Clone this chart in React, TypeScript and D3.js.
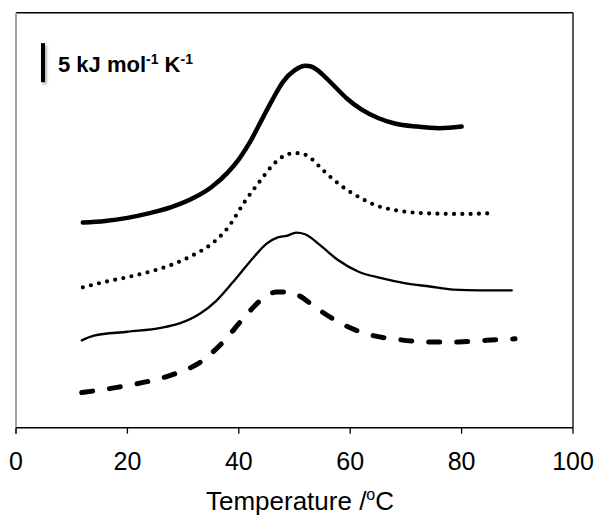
import React from "react";
import * as d3 from "d3";

// Temperature (°C) and offset heat capacity (kJ mol-1 K-1) for four DSC traces
const curveA_T = [12, 16, 20, 24, 28, 32, 35, 38, 40, 42, 44, 46, 48, 50, 52, 53, 54, 55, 57, 59.4, 62, 65, 68, 72, 76, 80];
const curveA_V = [26.3, 26.5, 26.9, 27.5, 28.3, 29.5, 30.8, 32.7, 34.4, 36.6, 39.3, 42.0, 44.4, 45.8, 46.4, 46.3, 45.9, 45.3, 43.9, 42.2, 40.8, 39.7, 39.0, 38.6, 38.4, 38.6];

const curveB_T = [12, 16, 20, 24, 28, 32, 35, 38, 41, 44, 46, 48, 50, 51.5, 53, 55, 57, 59.4, 62, 65, 68, 71, 75, 80, 86];
const curveB_V = [18.0, 18.7, 19.3, 20.0, 20.9, 22.2, 23.5, 25.6, 28.9, 31.8, 33.6, 34.8, 35.2, 35.1, 34.5, 33.1, 31.8, 30.5, 29.4, 28.4, 27.9, 27.6, 27.45, 27.4, 27.5];

const curveC_T = [11.8, 14, 20, 26, 29.5, 33, 36, 39, 42.6, 45, 47, 48.6, 50.3, 51.9, 54.6, 57.8, 61.5, 65.4, 70, 74.3, 78.5, 83.3, 89];
const curveC_V = [11.2, 11.8, 12.3, 12.8, 13.4, 14.6, 16.3, 18.7, 21.8, 23.6, 24.4, 24.6, 25.0, 24.8, 23.4, 21.5, 20.0, 19.2, 18.5, 18.1, 17.7, 17.6, 17.6];

const curveD_T = [11.8, 18.4, 23.5, 28.5, 33.3, 37.2, 40.8, 44.4, 46.8, 48.8, 50.6, 54.0, 58.8, 63.6, 68.6, 74.0, 79.4, 84.5, 89.6];
const curveD_V = [4.5, 5.2, 5.9, 6.9, 8.5, 11.0, 14.0, 16.6, 17.4, 17.4, 17.0, 15.3, 13.2, 11.9, 11.3, 11.0, 11.0, 11.2, 11.4];

const xTicks = [0, 20, 40, 60, 80, 100];
const xDomain = [0, 100];
const yDomain = [0, 53.2];
const scaleBar = [44.3, 49.3]; // 5 kJ mol-1 K-1

const W = 598;
const H = 515;
const left = 16;
const right = 573;
const top = 12.7;
const bottom = 427.7;

export default function App() {
  const x = d3.scaleLinear().domain(xDomain).range([left, right]);
  const y = d3.scaleLinear().domain(yDomain).range([bottom, top]);
  const line = d3
    .line<[number, number]>()
    .x((d) => x(d[0]))
    .y((d) => y(d[1]))
    .curve(d3.curveMonotoneX);
  const pts = (t: number[], v: number[]) => t.map((tt, i) => [tt, v[i]] as [number, number]);

  const font = "'Liberation Sans', Arial, sans-serif";
  const barTop = y(scaleBar[1]);
  const barBot = y(scaleBar[0]);

  return (
    <svg
      width={W}
      height={H}
      style={{ position: "absolute", left: 0, top: 0, background: "#fff" }}
    >
      <defs>
        <filter id="sh" filterUnits="userSpaceOnUse" x="20" y="20" width="60" height="90">
          <feGaussianBlur stdDeviation="1.5" />
        </filter>
      </defs>
      {/* frame */}
      <line x1={left} x2={right} y1={top} y2={top} stroke="#000" strokeWidth={1.5} />
      <line x1={right} x2={right} y1={top} y2={bottom} stroke="#222" strokeWidth={1.5} />
      <line x1={left} x2={left} y1={top} y2={bottom + 6} stroke="#a0a0a0" strokeWidth={2} />
      <line x1={left} x2={right} y1={bottom} y2={bottom} stroke="#000" strokeWidth={1.5} />
      {xTicks.map((t) => (
        <g key={t}>
          <line x1={x(t)} x2={x(t)} y1={bottom} y2={bottom + 6} stroke="#000" strokeWidth={1.3} />
          <text x={x(t)} y={470} textAnchor="middle" fontFamily={font} fontSize={25} fill="#000">
            {t}
          </text>
        </g>
      ))}
      <text x={300} y={510} textAnchor="middle" fontFamily={font} fontSize={26} fill="#000">
        Temperature /<tspan fontSize={16} dy={-10}>o</tspan>
        <tspan dy={10}>C</tspan>
      </text>

      {/* scale bar */}
      <rect x={42.5} y={barTop + 2} width={4} height={barBot - barTop} fill="#000" opacity={0.35} filter="url(#sh)" />
      <rect x={41} y={barTop} width={4} height={barBot - barTop} fill="#000" />
      <text x={58} y={72} fontFamily={font} fontSize={22} fontWeight="bold" fill="#000">
        5 kJ mol<tspan fontSize={14} dy={-8}>-1</tspan>
        <tspan dy={8}> K</tspan>
        <tspan fontSize={14} dy={-8}>-1</tspan>
      </text>

      {/* curves */}
      <path d={line(pts(curveA_T, curveA_V)) || ""} fill="none" stroke="#000" strokeWidth={4.5} strokeLinecap="round" strokeLinejoin="round" />
      <path d={line(pts(curveB_T, curveB_V)) || ""} fill="none" stroke="#000" strokeWidth={4.2} strokeLinecap="round" strokeDasharray="0 8.3" />
      <path d={line(pts(curveC_T, curveC_V)) || ""} fill="none" stroke="#000" strokeWidth={2.3} strokeLinecap="round" />
      <path d={line(pts(curveD_T, curveD_V)) || ""} fill="none" stroke="#000" strokeWidth={5} strokeLinecap="round" strokeDasharray="11 17" />
    </svg>
  );
}
